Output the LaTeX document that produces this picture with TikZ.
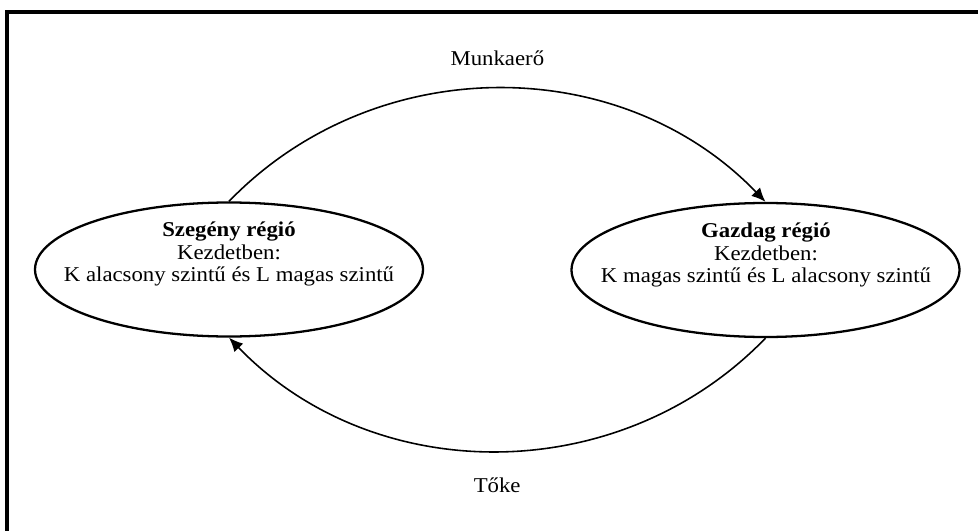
\documentclass[tikz,border=0pt]{standalone}
\usepackage{fontspec}
\setmainfont[FakeStretch=1.08]{Liberation Serif}
\usepackage{tikz}
\usetikzlibrary{shapes.geometric}
\usetikzlibrary{arrows.meta}

\begin{document}
\begin{tikzpicture}[
  region/.style={ellipse, draw, line width=1.3pt, minimum width=7.76cm, minimum height=2.68cm, inner sep=0pt},
  regiontext/.style={align=center, font=\fontsize{12}{12.6}\selectfont},
  flow/.style={-{Latex[length=8pt,width=7pt]}, line width=0.9pt},
  flowlabel/.style={font=\fontsize{12}{12.6}\selectfont}
]
  \useasboundingbox (0,0) rectangle (19.56,-10.62);
  \clip (0,0) rectangle (19.56,-10.62);
  \draw [line width=1.8pt] (0.14,-11) -- (0.14,-0.24) -- (20,-0.24);

  \node [region] (poor) at (4.58,-5.39) {};
  \node [region] (rich) at (15.31,-5.40) {};
  \node [regiontext] (poortext) at (4.58,-5.08) {\textbf{Szegény régió}\\Kezdetben:\\K alacsony szintű és L magas szintű};
  \node [regiontext] (richtext) at (15.32,-5.10) {\textbf{Gazdag régió}\\Kezdetben:\\K magas szintű és L alacsony szintű};

  \draw [flow] (poor.north) to[bend left=46] node[midway, above=0.32cm, flowlabel] (labour) {Munkaerő} (rich.north);
  \draw [flow] (rich.south) to[bend left=46] node[midway, below=0.4cm, flowlabel] (capital) {Tőke} (poor.south);
\end{tikzpicture}
\end{document}
